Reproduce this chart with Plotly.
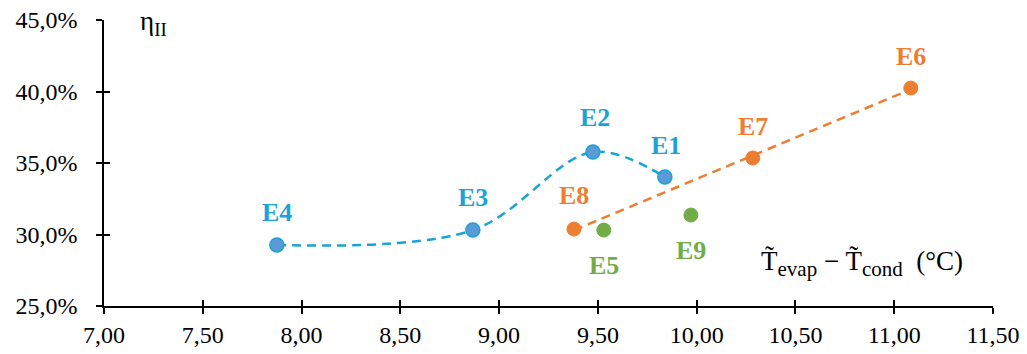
import numpy as np
import plotly.graph_objects as go

# Data
blue_labels = ["E4", "E3", "E2", "E1"]
blue_x = [7.875, 8.867, 9.475, 9.839]
blue_y = [0.2927, 0.3031, 0.3577, 0.3402]

orange_labels = ["E8", "E7", "E6"]
orange_x = [9.379, 10.284, 11.084]
orange_y = [0.3038, 0.3535, 0.4024]

green_labels = ["E5", "E9"]
green_x = [9.53, 9.971]
green_y = [0.3031, 0.3136]

x_ticks = [7.0, 7.5, 8.0, 8.5, 9.0, 9.5, 10.0, 10.5, 11.0, 11.5]
y_ticks = [0.25, 0.30, 0.35, 0.40, 0.45]

BLUE_LINE = "#1AA3D6"
BLUE_FILL = "#5B9BD5"
ORANGE = "#ED7D31"
GREEN = "#70AD47"
FONT = "Liberation Serif, Times New Roman, serif"

fig = go.Figure()

fig.add_trace(go.Scatter(x=blue_x, y=blue_y, mode="lines",
                         line=dict(color=BLUE_LINE, width=2.5, dash="9px,6px", shape="spline", smoothing=1.0),
                         hoverinfo="skip", showlegend=False))

coef = np.polyfit(orange_x, orange_y, 1)
tx = [min(orange_x), max(orange_x)]
ty = [coef[0] * v + coef[1] for v in tx]
fig.add_trace(go.Scatter(x=tx, y=ty, mode="lines",
                         line=dict(color=ORANGE, width=2.5, dash="9px,6px"),
                         hoverinfo="skip", showlegend=False))

fig.add_trace(go.Scatter(x=blue_x, y=blue_y, mode="markers",
                         marker=dict(size=14, color=BLUE_FILL, line=dict(color=BLUE_LINE, width=1.5)),
                         showlegend=False))
fig.add_trace(go.Scatter(x=orange_x, y=orange_y, mode="markers",
                         marker=dict(size=14, color=ORANGE, line=dict(color=ORANGE, width=1)),
                         showlegend=False))
fig.add_trace(go.Scatter(x=green_x, y=green_y, mode="markers",
                         marker=dict(size=14, color=GREEN, line=dict(color=GREEN, width=1)),
                         showlegend=False))

label_shift = {"E4": 32, "E3": 33, "E2": 34, "E1": 32, "E8": 34, "E7": 32, "E6": 32,
               "E5": -35, "E9": -35}
label_dx = {"E2": 2, "E1": 1}
for labels, xs, ys, col in [(blue_labels, blue_x, blue_y, BLUE_LINE),
                            (orange_labels, orange_x, orange_y, ORANGE),
                            (green_labels, green_x, green_y, GREEN)]:
    for lab, xv, yv in zip(labels, xs, ys):
        fig.add_annotation(x=xv, y=yv, text="<b>%s</b>" % lab, showarrow=False,
                           xref="x", yref="y", yshift=label_shift[lab], xshift=label_dx.get(lab, 0),
                           font=dict(family=FONT, size=26, color=col))

fig.add_annotation(xref="x domain", yref="y domain", x=0.038, y=0.99,
                   xanchor="left", yanchor="middle", text="η<sub>II</sub>", showarrow=False,
                   font=dict(family=FONT, size=27, color="black"))
fig.add_annotation(xref="x domain", yref="y domain", x=0.737, y=0.15, xanchor="left", yanchor="middle",
                   text="T\u0303<sub><span style='font-size:21px'>evap</span></sub> \u2212 "
                        "T\u0303<sub><span style='font-size:21px'>cond</span></sub>\u00a0\u00a0(°C)",
                   showarrow=False,
                   font=dict(family=FONT, size=27, color="black"))

axis_common = dict(showgrid=False, zeroline=False, showline=True, linecolor="black", linewidth=1.5,
                   ticks="outside", ticklen=6, tickwidth=1.5, tickcolor="black", automargin=False,
                   ticklabeloverflow="allow",
                   tickfont=dict(family=FONT, size=24, color="black"))
fig.update_layout(
    width=1027, height=354,
    margin=dict(l=104, r=34, t=20, b=48),
    plot_bgcolor="white", paper_bgcolor="white",
    font=dict(family=FONT, color="black"),
    separators=",.",
    xaxis=dict(range=[7.0, 11.5], tickvals=x_ticks, tickformat=".2f", **axis_common),
    yaxis=dict(range=[0.25, 0.45], tickvals=y_ticks, tickformat=".1%", ticklabelstandoff=14,
               **axis_common),
    xaxis2=dict(overlaying="x", matches="x", range=[7.0, 11.5], tickvals=x_ticks, ticks="inside",
                ticklen=6, tickwidth=1.5, tickcolor="black", showticklabels=False, automargin=False,
                showgrid=False, zeroline=False, anchor="y"),
    yaxis2=dict(overlaying="y", matches="y", range=[0.25, 0.45], tickvals=y_ticks, ticks="inside",
                ticklen=6, tickwidth=1.5, tickcolor="black", showticklabels=False, automargin=False,
                showgrid=False, zeroline=False, anchor="x"),
    showlegend=False,
)
fig.add_trace(go.Scatter(x=[7.0], y=[0.25], xaxis="x2", yaxis="y2", mode="markers",
                         marker=dict(opacity=0), hoverinfo="skip", showlegend=False))

fig.write_html("out.html", config={"displayModeBar": False},
               post_script="document.body.style.margin='0';document.body.style.overflow='hidden';")
